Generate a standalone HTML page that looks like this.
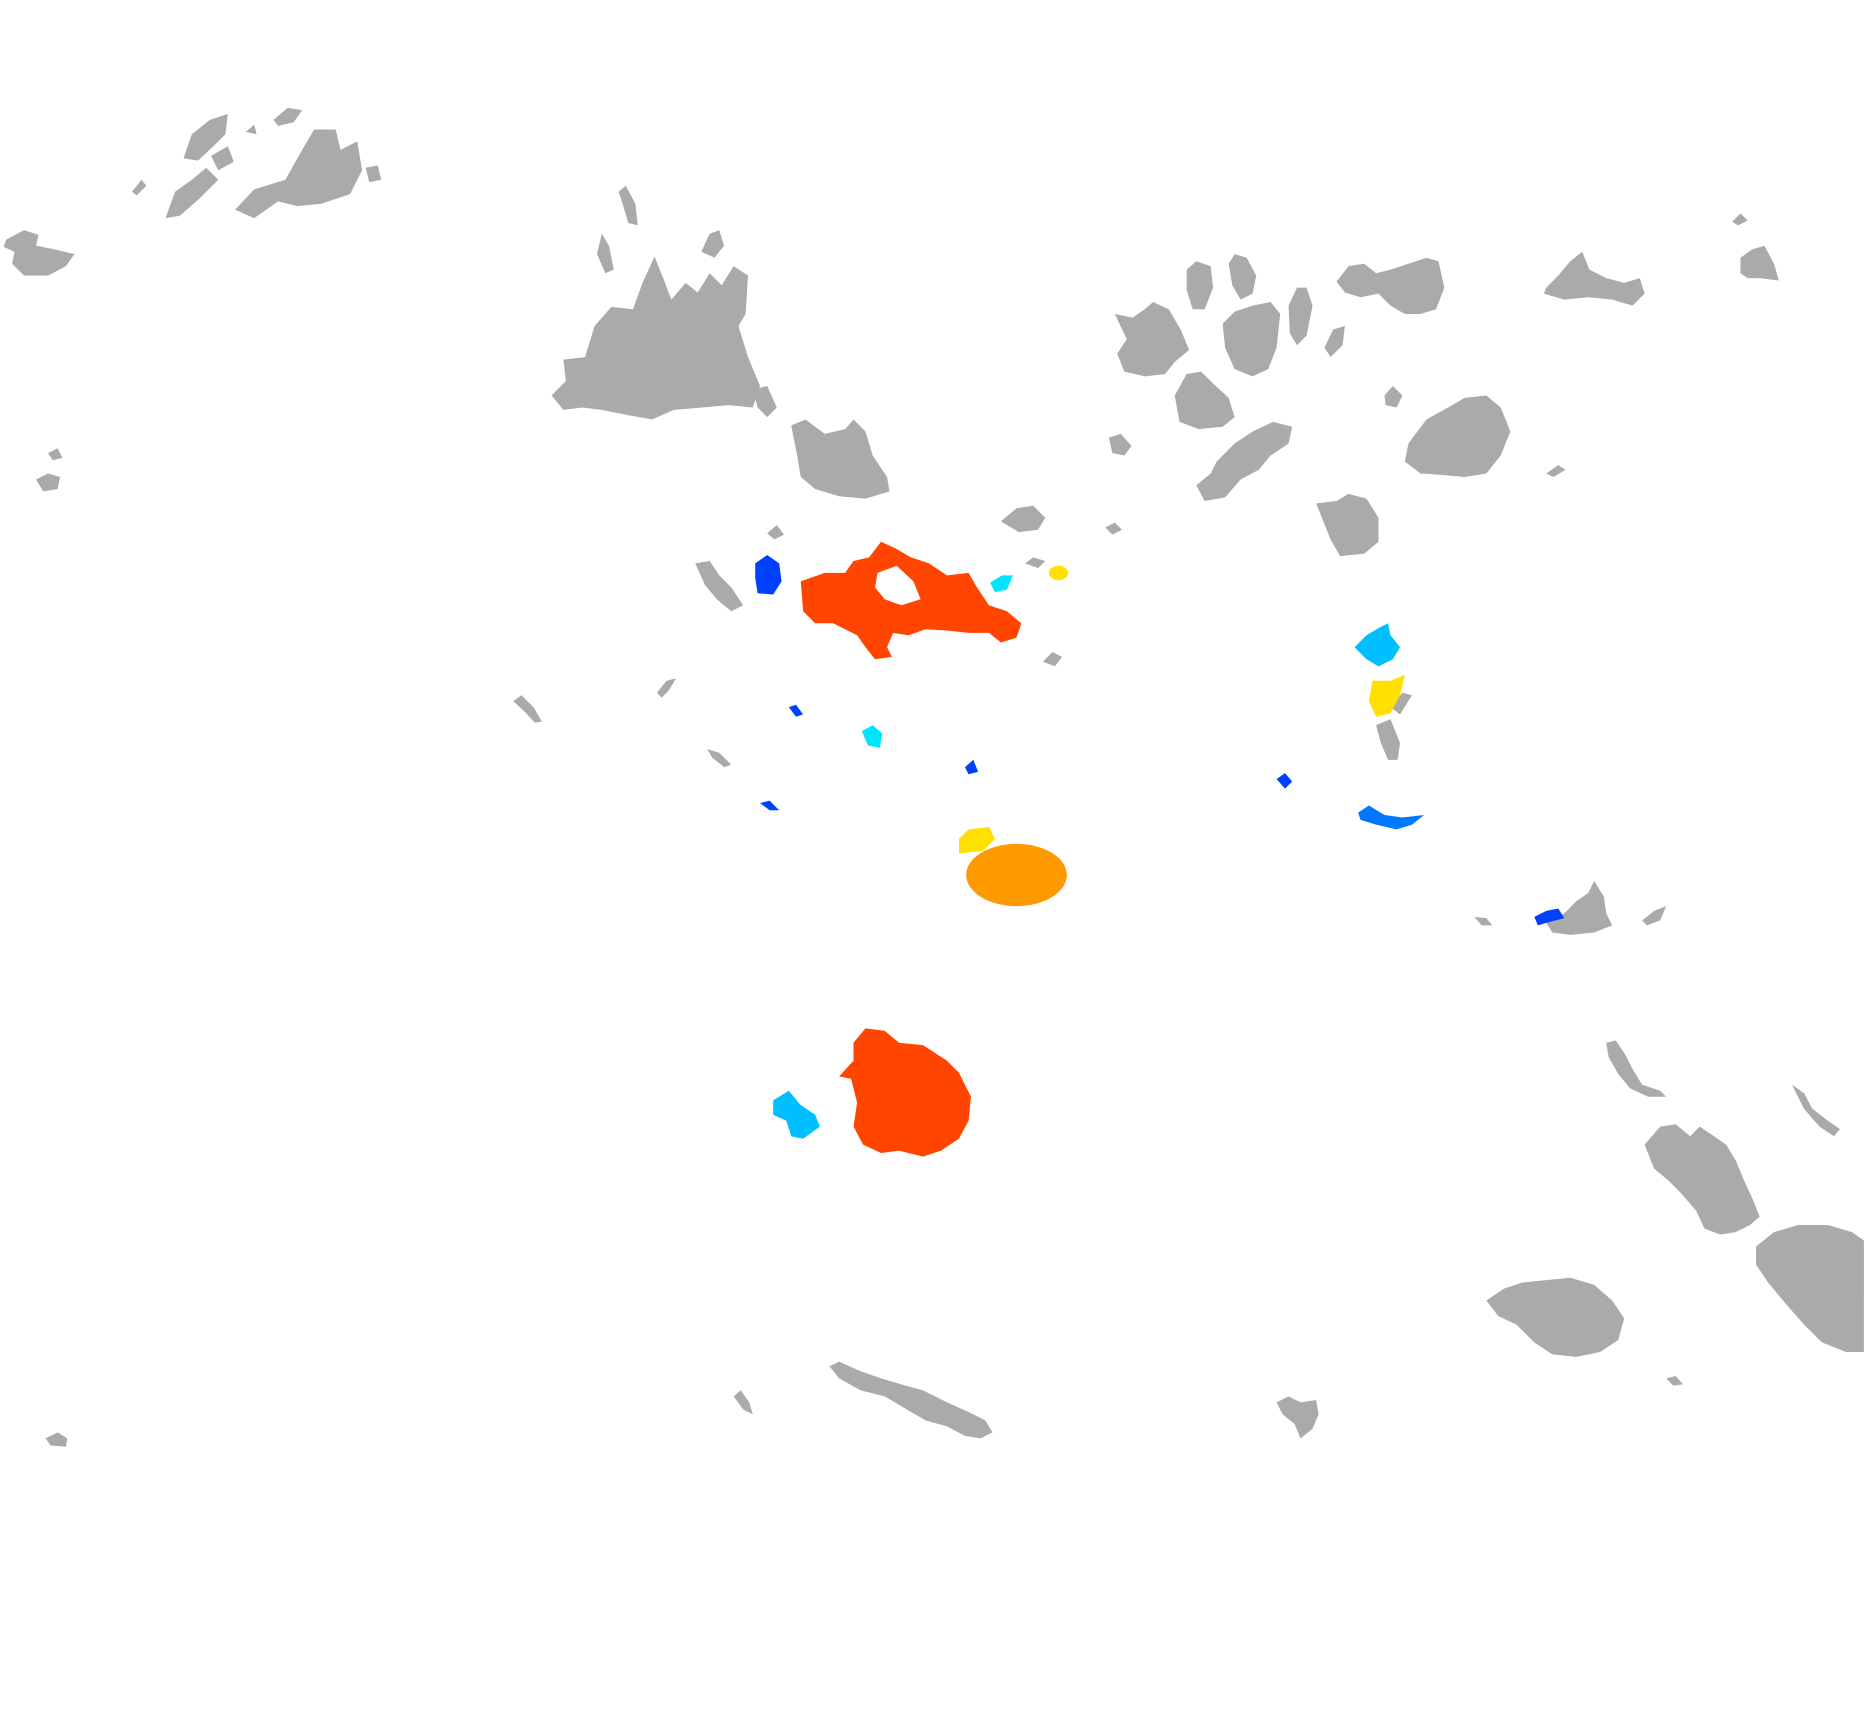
<!DOCTYPE html>
<html><head><meta charset="utf-8"><style>
html,body{margin:0;padding:0;background:#fff;}
svg{display:block;}
</style></head><body>
<svg width="1870" height="1714" viewBox="0 0 1560 1430" xmlns="http://www.w3.org/2000/svg">
<g fill="#aaaaaa">
<polygon points="196,175 212,158 238,150 252,125 262,108 280,108 284,125 298,118 302,142 292,162 268,170 248,172 232,168 212,182"/>
<polygon points="305,140 315,138 318,150 308,152"/>
<polygon points="138,182 146,160 160,150 172,140 182,150 166,166 150,180"/>
<polygon points="153,132 160,112 175,100 190,95 188,112 178,122 165,134"/>
<polygon points="176,130 190,122 195,135 182,142"/>
<polygon points="228,100 240,90 252,92 245,102 232,105"/>
<polygon points="205,110 212,104 214,112"/>
<polygon points="110,160 118,150 122,155 114,163"/>
<polygon points="5,200 20,192 32,196 30,205 45,208 62,212 55,222 40,230 20,230 10,220 12,210 3,206"/>
<polygon points="30,400 40,395 50,398 48,408 36,410"/>
<polygon points="40,378 48,374 52,382 44,384"/>
<polygon points="460,330 472,318 470,300 488,298 496,272 510,256 528,258 536,236 546,214 554,234 560,250 572,236 582,244 592,228 602,238 612,222 624,230 622,262 616,272 624,298 634,322 628,340 608,338 586,340 562,342 544,350 522,346 502,342 486,340 470,342"/>
<polygon points="628,325 640,322 648,340 640,348 632,340"/>
<polygon points="585,210 592,195 600,192 604,205 596,215"/>
<polygon points="498,212 502,195 508,205 512,225 505,228"/>
<polygon points="516,160 522,155 530,170 532,188 524,186 520,172"/>
<polygon points="660,355 672,350 688,362 705,358 712,350 722,360 728,380 740,398 742,410 722,416 700,414 680,408 668,398 665,380"/>
<polygon points="835,435 848,424 862,422 872,432 866,442 850,444"/>
<polygon points="855,470 862,465 872,468 866,474"/>
<polygon points="922,440 930,436 936,442 928,446"/>
<polygon points="870,552 878,544 886,548 880,556"/>
<polygon points="580,470 592,468 600,480 610,490 620,505 610,510 598,500 588,488"/>
<polygon points="640,445 648,438 654,446 646,450"/>
<polygon points="428,585 435,580 445,590 452,602 446,603 438,594"/>
<polygon points="548,578 556,568 564,566 558,576 552,582"/>
<polygon points="590,625 600,628 610,638 604,640 594,632"/>
<polygon points="930,262 945,265 955,258 962,252 975,258 985,275 992,292 980,302 972,312 955,314 938,310 932,295 940,283"/>
<polygon points="990,225 998,218 1010,222 1012,240 1005,258 995,258 990,242"/>
<polygon points="1025,220 1030,212 1040,215 1048,230 1045,245 1035,250 1028,238"/>
<polygon points="1020,270 1030,260 1045,255 1060,252 1068,262 1065,290 1058,308 1045,314 1030,308 1022,290"/>
<polygon points="1075,255 1082,240 1090,240 1095,255 1090,280 1082,288 1076,278"/>
<polygon points="1105,290 1112,275 1122,272 1120,288 1110,298"/>
<polygon points="980,330 990,312 1002,310 1012,320 1025,332 1030,348 1020,356 1000,358 984,352"/>
<polygon points="1015,385 1030,370 1045,360 1062,352 1078,356 1075,370 1060,380 1050,392 1035,400 1022,415 1005,418 998,405 1010,395"/>
<polygon points="1115,235 1125,222 1138,220 1148,228 1160,225 1175,220 1190,215 1200,218 1205,240 1198,258 1185,262 1172,262 1160,255 1150,245 1135,248 1122,244"/>
<polygon points="1155,330 1162,322 1170,330 1165,340 1156,338"/>
<polygon points="1175,370 1190,350 1208,340 1222,332 1240,330 1252,340 1260,360 1252,380 1240,395 1222,398 1200,396 1185,395 1172,385"/>
<polygon points="1098,420 1115,418 1125,412 1140,416 1150,432 1150,452 1138,462 1118,464 1110,450"/>
<polygon points="925,365 935,362 944,372 938,380 928,378"/>
<polygon points="1290,395 1300,388 1306,392 1296,398"/>
<polygon points="1290,240 1300,230 1310,218 1320,210 1326,225 1340,232 1355,236 1368,232 1372,245 1362,255 1345,250 1325,248 1305,250 1288,245"/>
<polygon points="1445,185 1452,178 1458,184 1450,188"/>
<polygon points="1452,215 1462,208 1472,205 1480,220 1484,234 1468,232 1458,232 1452,228"/>
<polygon points="1148,605 1160,600 1168,620 1166,634 1158,634 1152,620"/>
<polygon points="1160,590 1170,578 1178,580 1168,596"/>
<polygon points="1230,765 1240,766 1245,772 1236,772"/>
<polygon points="1290,770 1305,762 1315,752 1325,745 1330,735 1338,748 1340,762 1345,772 1330,778 1310,780 1295,778"/>
<polygon points="1370,768 1380,760 1390,756 1385,768 1374,772"/>
<polygon points="1340,870 1348,868 1356,880 1362,892 1370,905 1385,910 1390,915 1375,915 1360,908 1350,896 1342,882"/>
<polygon points="1495,905 1505,912 1512,925 1525,935 1535,942 1530,948 1518,940 1505,925"/>
<polygon points="1372,955 1385,940 1398,938 1410,948 1418,940 1430,948 1440,955 1448,968 1455,985 1462,1000 1468,1015 1460,1022 1448,1028 1435,1030 1422,1025 1415,1010 1402,995 1392,985 1380,975"/>
<polygon points="1465,1040 1480,1028 1500,1022 1525,1022 1545,1028 1555,1035 1555,1128 1540,1128 1520,1120 1505,1105 1490,1088 1475,1070 1465,1055"/>
<polygon points="1240,1085 1255,1075 1270,1070 1290,1068 1310,1066 1330,1072 1345,1085 1355,1100 1350,1118 1335,1128 1315,1132 1295,1130 1280,1120 1265,1105 1250,1098"/>
<polygon points="1390,1150 1398,1148 1404,1155 1396,1156"/>
<polygon points="692,1140 700,1136 718,1144 735,1150 752,1155 770,1160 790,1170 808,1178 822,1185 828,1195 818,1200 805,1198 790,1190 772,1185 755,1175 738,1165 718,1160 700,1150"/>
<polygon points="612,1165 618,1160 625,1170 628,1180 620,1176"/>
<polygon points="1065,1170 1075,1165 1085,1170 1098,1168 1100,1180 1095,1192 1085,1200 1080,1188 1070,1180"/>
<polygon points="38,1200 48,1195 56,1200 55,1207 42,1206"/>
</g>
<path fill="#ff4500" fill-rule="evenodd" d="M668,485 L688,478 L705,478 L712,468 L725,465 L735,452 L748,458 L760,465 L775,470 L790,480 L808,478 L815,490 L825,505 L840,510 L852,520 L848,532 L835,536 L825,528 L808,528 L790,526 L772,525 L758,530 L745,528 L740,540 L744,548 L730,550 L722,540 L715,530 L695,520 L680,520 L670,510 Z M732,478 L748,472 L762,485 L768,500 L752,505 L738,500 L730,490 Z"/>
<polygon fill="#ff4500" points="712,870 722,858 738,860 750,870 770,872 790,885 800,895 810,915 808,935 800,950 785,960 770,965 750,960 735,962 720,955 712,940 715,920 710,900 700,898 712,885"/>
<ellipse fill="#ff9900" cx="848" cy="730" rx="42" ry="26"/>
<polygon fill="#ffe000" points="800,700 808,692 825,690 830,700 820,710 800,712"/>
<ellipse fill="#ffe000" cx="883" cy="478" rx="8" ry="6"/>
<polygon fill="#ffe000" points="1145,568 1160,568 1172,563 1168,580 1160,595 1148,598 1142,585"/>
<polygon fill="#00e5ff" points="826,486 836,480 845,480 840,492 830,494"/>
<polygon fill="#00e5ff" points="719,610 728,605 736,612 734,624 724,622"/>
<polygon fill="#00bfff" points="1130,540 1140,530 1150,524 1158,520 1160,530 1168,540 1162,550 1150,556 1140,550"/>
<polygon fill="#00bfff" points="645,918 658,910 668,922 680,930 684,940 670,950 660,948 656,935 645,930"/>
<polygon fill="#0040ff" points="630,470 640,463 650,470 652,485 645,496 632,495 630,482"/>
<polygon fill="#0040ff" points="658,590 664,588 670,596 664,598"/>
<polygon fill="#0040ff" points="805,640 812,634 816,644 808,646"/>
<polygon fill="#0040ff" points="634,670 642,668 650,676 642,676"/>
<polygon fill="#0040ff" points="1065,650 1072,645 1078,652 1072,658"/>
<polygon fill="#0040ff" points="1280,765 1290,760 1300,758 1305,766 1290,770 1283,772"/>
<polygon fill="#0077ff" points="1133,678 1142,672 1155,680 1170,682 1188,680 1178,688 1165,692 1148,688 1135,684"/>
</svg>
</body></html>
